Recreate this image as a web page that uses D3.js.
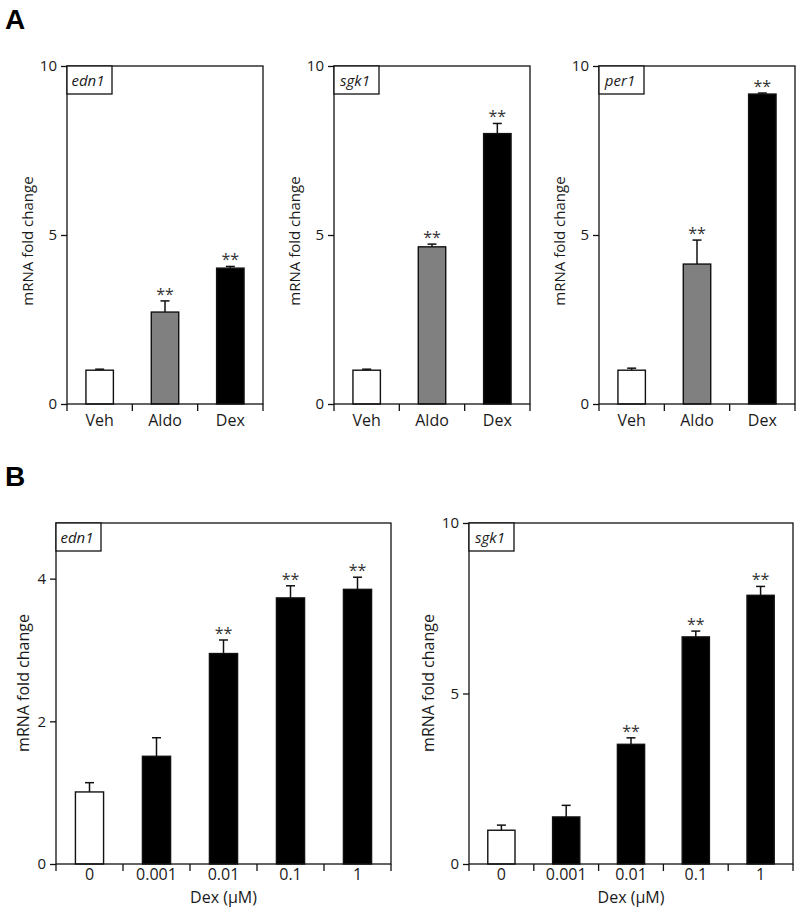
<!DOCTYPE html>
<html>
<head>
<meta charset="utf-8">
<script src="https://cdn.jsdelivr.net/npm/d3@7"></script>
<style>
  body { margin: 0; background: #fff; }
  text { font-family: "Open Sans", sans-serif; fill: #1a1a1a; }
</style>
</head>
<body>
<svg id="chart" width="800" height="910"></svg>
<script>
// panel A: three genes, treatment groups
const groupsA = ['Veh', 'Aldo', 'Dex'];
const fillsA = ['#ffffff', '#808080', '#000000'];
const edn1A = [1.0, 2.72, 4.02];
const edn1AErr = [0.03, 0.33, 0.05];
const sgk1A = [1.0, 4.65, 8.0];
const sgk1AErr = [0.03, 0.08, 0.3];
const per1A = [1.0, 4.14, 9.17];
const per1AErr = [0.06, 0.71, 0.03];
const starsA = [false, true, true];
const ticksA = [0, 5, 10];

// panel B: Dex dose response (uM)
const dosesB = ['0', '0.001', '0.01', '0.1', '1'];
const fillsB = ['#ffffff', '#000000', '#000000', '#000000', '#000000'];
const edn1B = [1.01, 1.51, 2.95, 3.73, 3.85];
const edn1BErr = [0.13, 0.26, 0.19, 0.17, 0.17];
const sgk1B = [0.99, 1.38, 3.51, 6.66, 7.88];
const sgk1BErr = [0.15, 0.34, 0.19, 0.17, 0.26];
const starsB = [false, false, true, true, true];
const ticksEdn1B = [0, 2, 4];
const ticksSgk1B = [0, 5, 10];

const svg = d3.select('#chart');

function drawPanel(p) {
  const x = d3.scaleBand()
    .domain(p.cats)
    .range([p.x0, p.x1])
    .paddingInner(0.58)
    .paddingOuter(0.29);
  const y = d3.scaleLinear()
    .domain([0, p.ymax])
    .range([p.yBot, p.yTop]);

  const g = svg.append('g');

  // bars
  g.selectAll('rect.bar')
    .data(p.cats)
    .enter()
    .append('rect')
    .attr('class', 'bar')
    .attr('x', d => x(d))
    .attr('width', x.bandwidth())
    .attr('y', (d, i) => y(p.vals[i]))
    .attr('height', (d, i) => y(0) - y(p.vals[i]))
    .attr('fill', (d, i) => p.fills[i])
    .attr('stroke', '#111')
    .attr('stroke-width', 1.4);

  // error bars, upper only
  const cx = d => x(d) + x.bandwidth() / 2;
  g.selectAll('line.err')
    .data(p.cats)
    .enter()
    .append('line')
    .attr('x1', cx).attr('x2', cx)
    .attr('y1', (d, i) => y(p.vals[i]))
    .attr('y2', (d, i) => y(p.vals[i] + p.errs[i]))
    .attr('stroke', '#111')
    .attr('stroke-width', 1.5);
  g.selectAll('line.cap')
    .data(p.cats)
    .enter()
    .append('line')
    .attr('x1', d => cx(d) - 4.5).attr('x2', d => cx(d) + 4.5)
    .attr('y1', (d, i) => y(p.vals[i] + p.errs[i]))
    .attr('y2', (d, i) => y(p.vals[i] + p.errs[i]))
    .attr('stroke', '#111')
    .attr('stroke-width', 1.5);

  // significance stars
  g.selectAll('text.star')
    .data(p.cats.filter((d, i) => p.stars[i]))
    .enter()
    .append('text')
    .attr('x', cx)
    .attr('y', d => {
      const i = p.cats.indexOf(d);
      return y(p.vals[i] + p.errs[i]) - 1;
    })
    .attr('text-anchor', 'middle')
    .style('font-size', '16px')
    .style('fill', '#333')
    .text('**');

  // frame
  g.append('rect')
    .attr('x', p.x0).attr('y', p.yTop)
    .attr('width', p.x1 - p.x0).attr('height', p.yBot - p.yTop)
    .attr('fill', 'none')
    .attr('stroke', '#111')
    .attr('stroke-width', 1.3);

  // y axis
  const yAxis = g.append('g')
    .attr('transform', `translate(${p.x0},0)`)
    .call(d3.axisLeft(y).tickValues(p.ticks).tickSize(6).tickPadding(4).tickFormat(d3.format('d')));
  yAxis.select('.domain').remove();
  yAxis.selectAll('line').attr('stroke', '#111').attr('stroke-width', 1.3);
  yAxis.selectAll('text').style('font-size', '15px').attr('font-family', null);

  // x axis: labels centered, ticks on group boundaries
  const xAxis = g.append('g')
    .attr('transform', `translate(0,${p.yBot})`)
    .call(d3.axisBottom(x).tickSize(0).tickPadding(p.xPad));
  xAxis.select('.domain').remove();
  xAxis.selectAll('text').style('font-size', '16px').attr('font-family', null);
  const step = x.step();
  const bounds = p.cats.map(d => x(d) - (step - x.bandwidth()) / 2).concat([p.x1]);
  g.selectAll('line.xtick')
    .data(bounds)
    .enter()
    .append('line')
    .attr('x1', d => d).attr('x2', d => d)
    .attr('y1', p.yBot).attr('y2', p.yBot + 7)
    .attr('stroke', '#111')
    .attr('stroke-width', 1.3);

  // gene label box
  g.append('rect')
    .attr('x', p.x0).attr('y', p.yTop)
    .attr('width', 45).attr('height', 28)
    .attr('fill', '#fff')
    .attr('stroke', '#111')
    .attr('stroke-width', 1.3);
  g.append('text')
    .attr('x', p.x0 + 21).attr('y', p.yTop + 19.5)
    .attr('text-anchor', 'middle')
    .style('font-size', '15px')
    .style('font-style', 'italic')
    .text(p.gene);

  // y axis title
  g.append('text')
    .attr('transform', `translate(${p.yLabX},${p.yLabY}) rotate(-90)`)
    .attr('text-anchor', 'middle')
    .style('font-size', p.yLabSize + 'px')
    .text('mRNA fold change');

  if (p.xTitle) {
    g.append('text')
      .attr('x', (p.x0 + p.x1) / 2).attr('y', p.xTitleY)
      .attr('text-anchor', 'middle')
      .style('font-size', '16px')
      .text(p.xTitle);
  }
}

drawPanel({ cats: groupsA, fills: fillsA, vals: edn1A, errs: edn1AErr, stars: starsA, ticks: ticksA,
  ymax: 10, gene: 'edn1', x0: 67, x1: 263, yTop: 66, yBot: 404, xPad: 11, yLabX: 33, yLabY: 241, yLabSize: 15 });
drawPanel({ cats: groupsA, fills: fillsA, vals: sgk1A, errs: sgk1AErr, stars: starsA, ticks: ticksA,
  ymax: 10, gene: 'sgk1', x0: 334, x1: 530, yTop: 66, yBot: 404, xPad: 11, yLabX: 300, yLabY: 241, yLabSize: 15 });
drawPanel({ cats: groupsA, fills: fillsA, vals: per1A, errs: per1AErr, stars: starsA, ticks: ticksA,
  ymax: 10, gene: 'per1', x0: 599, x1: 795, yTop: 66, yBot: 404, xPad: 11, yLabX: 565, yLabY: 241, yLabSize: 15 });
drawPanel({ cats: dosesB, fills: fillsB, vals: edn1B, errs: edn1BErr, stars: starsB, ticks: ticksEdn1B,
  ymax: 4.78, gene: 'edn1', x0: 56, x1: 391, yTop: 523, yBot: 864, xPad: 5, yLabX: 29, yLabY: 683, yLabSize: 16,
  xTitle: 'Dex (\u03bcM)', xTitleY: 903 });
drawPanel({ cats: dosesB, fills: fillsB, vals: sgk1B, errs: sgk1BErr, stars: starsB, ticks: ticksSgk1B,
  ymax: 10, gene: 'sgk1', x0: 469, x1: 793, yTop: 523, yBot: 864, xPad: 5, yLabX: 434, yLabY: 683, yLabSize: 16,
  xTitle: 'Dex (\u03bcM)', xTitleY: 903 });

// panel letters
svg.append('text').attr('x', 5).attr('y', 29)
  .style('font-family', '"Liberation Sans", Arial, sans-serif')
  .style('font-weight', 'bold').style('font-size', '28px').style('fill', '#000')
  .text('A');
svg.append('text').attr('x', 5).attr('y', 486)
  .style('font-family', '"Liberation Sans", Arial, sans-serif')
  .style('font-weight', 'bold').style('font-size', '28px').style('fill', '#000')
  .text('B');
</script>
</body>
</html>
